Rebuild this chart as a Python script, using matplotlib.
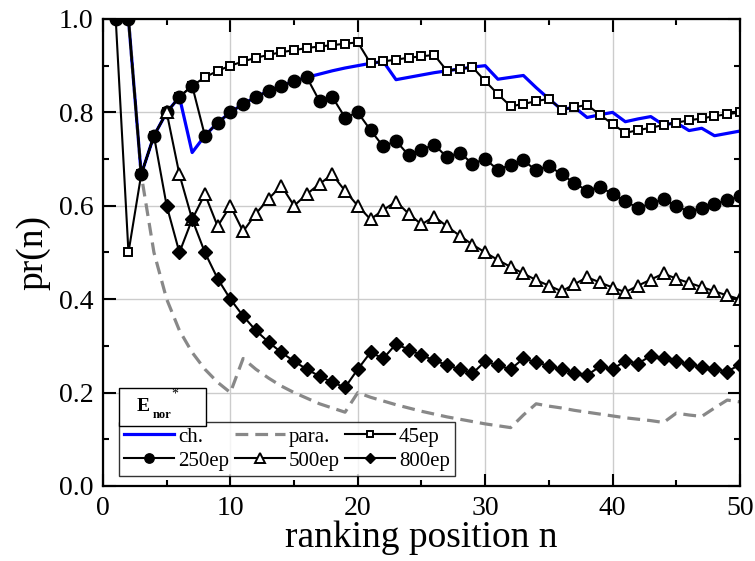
import matplotlib
matplotlib.use('Agg')
import matplotlib.pyplot as plt
import matplotlib.patches as patches

plt.rcParams['font.family'] = ['Liberation Serif', 'DejaVu Serif']

# ranking position n = 1..50
n = list(range(1, 51))

ch = [1.0, 1.0, 0.667, 0.75, 0.8, 0.833, 0.714, 0.75, 0.778, 0.8,
      0.818, 0.833, 0.846, 0.857, 0.867, 0.875, 0.882, 0.889, 0.895, 0.9,
      0.905, 0.909, 0.870, 0.875, 0.88, 0.885, 0.889, 0.893, 0.897, 0.9,
      0.871, 0.875, 0.879, 0.853, 0.829, 0.806, 0.811, 0.789, 0.795, 0.8,
      0.780, 0.786, 0.791, 0.773, 0.778, 0.761, 0.766, 0.75, 0.755, 0.76]

para = [1.0, 1.0, 0.667, 0.5, 0.4, 0.333, 0.286, 0.25, 0.222, 0.2,
        0.273, 0.25, 0.231, 0.214, 0.2, 0.188, 0.176, 0.167, 0.158, 0.2,
        0.190, 0.182, 0.174, 0.167, 0.16, 0.154, 0.148, 0.143, 0.138, 0.133,
        0.129, 0.125, 0.152, 0.176, 0.171, 0.167, 0.162, 0.158, 0.154, 0.15,
        0.146, 0.143, 0.140, 0.136, 0.156, 0.152, 0.149, 0.167, 0.184, 0.18]

ep45 = [1.0, 0.5, 0.667, 0.75, 0.8, 0.833, 0.857, 0.875, 0.889, 0.9,
        0.909, 0.917, 0.923, 0.929, 0.933, 0.938, 0.941, 0.944, 0.947, 0.95,
        0.905, 0.909, 0.913, 0.917, 0.92, 0.923, 0.889, 0.893, 0.897, 0.867,
        0.839, 0.813, 0.818, 0.824, 0.829, 0.806, 0.811, 0.816, 0.795, 0.775,
        0.756, 0.762, 0.767, 0.773, 0.778, 0.783, 0.787, 0.792, 0.796, 0.8]

ep250 = [1.0, 1.0, 0.667, 0.75, 0.8, 0.833, 0.857, 0.75, 0.778, 0.8,
         0.818, 0.833, 0.846, 0.857, 0.867, 0.875, 0.824, 0.833, 0.789, 0.8,
         0.762, 0.727, 0.739, 0.708, 0.72, 0.731, 0.704, 0.714, 0.690, 0.7,
         0.677, 0.688, 0.697, 0.676, 0.686, 0.667, 0.649, 0.632, 0.641, 0.625,
         0.610, 0.595, 0.605, 0.614, 0.6, 0.587, 0.596, 0.604, 0.612, 0.62]

ep500 = [1.0, 1.0, 0.667, 0.75, 0.8, 0.667, 0.571, 0.625, 0.556, 0.6,
         0.545, 0.583, 0.615, 0.643, 0.6, 0.625, 0.647, 0.667, 0.632, 0.6,
         0.571, 0.591, 0.609, 0.583, 0.56, 0.577, 0.556, 0.536, 0.517, 0.5,
         0.484, 0.469, 0.455, 0.441, 0.429, 0.417, 0.432, 0.447, 0.436, 0.425,
         0.415, 0.429, 0.442, 0.455, 0.444, 0.435, 0.426, 0.417, 0.408, 0.4]

ep800 = [1.0, 1.0, 0.667, 0.75, 0.6, 0.5, 0.571, 0.5, 0.444, 0.4,
         0.364, 0.333, 0.308, 0.286, 0.267, 0.25, 0.235, 0.222, 0.211, 0.25,
         0.286, 0.273, 0.304, 0.292, 0.28, 0.269, 0.259, 0.25, 0.241, 0.267,
         0.258, 0.25, 0.273, 0.265, 0.257, 0.25, 0.243, 0.237, 0.256, 0.25,
         0.268, 0.262, 0.279, 0.273, 0.267, 0.261, 0.255, 0.25, 0.245, 0.26]

x_ticks = [0, 10, 20, 30, 40, 50]
y_ticks = [0.0, 0.2, 0.4, 0.6, 0.8, 1.0]

fig = plt.figure(figsize=(7.55, 5.61), dpi=100)
ax = fig.add_axes([0.1364, 0.1337, 0.8437, 0.8325])

ax.grid(True, color='#cccccc', linewidth=1.0, zorder=0)
ax.set_axisbelow(True)

A, = ax.plot(n, ch, color='#0000ff', linewidth=2.3, label='ch.')
B, = ax.plot(n, para, color='#888888', linewidth=2.3, linestyle=(0, (4, 2.2)), label='para.')
C, = ax.plot(n, ep45, color='black', linewidth=1.5, marker='s', markersize=6,
             markerfacecolor='white', markeredgecolor='black', markeredgewidth=1.4, label='45ep')
D, = ax.plot(n, ep250, color='black', linewidth=1.5, marker='o', markersize=9,
             markerfacecolor='black', label='250ep')
E, = ax.plot(n, ep500, color='black', linewidth=1.5, marker='^', markersize=9,
             markerfacecolor='white', markeredgewidth=1.4, markevery=slice(4, None), label='500ep')
F, = ax.plot(n, ep800, color='black', linewidth=1.5, marker='D', markersize=7,
             markerfacecolor='black', markevery=slice(4, None), label='800ep')

ax.set_xlim(0, 50)
ax.set_ylim(0, 1.0)
ax.set_xticks(x_ticks)
ax.set_yticks(y_ticks)
ax.set_xticks([5, 15, 25, 35, 45], minor=True)
ax.set_yticks([0.1, 0.3, 0.5, 0.7, 0.9], minor=True)
ax.set_yticklabels(['%.1f' % v for v in y_ticks])
ax.tick_params(which='both', direction='in', top=True, right=True, width=1.5, labelsize=20, pad=7)
ax.tick_params(which='major', length=9)
ax.tick_params(which='minor', length=4.5)
for s in ax.spines.values():
    s.set_linewidth(1.6)

ax.set_xlabel('ranking position n', fontsize=27, labelpad=0)
ax.set_ylabel('pr(n)', fontsize=27, labelpad=6)

leg = ax.legend([A, D, B, E, C, F], ['ch.', '250ep', 'para.', '500ep', '45ep', '800ep'],
                ncol=3, loc='lower left', bbox_to_anchor=(0.0251, 0.0214), borderaxespad=0,
                fontsize=15, handlelength=2.4, handletextpad=0.2, columnspacing=0.25,
                labelspacing=0.22, borderpad=0.25, markerscale=0.75,
                frameon=True, fancybox=False)
leg.get_frame().set_edgecolor('black')
leg.get_frame().set_linewidth(1.0)
leg.set_zorder(10)

# title box above the legend
rect = patches.Rectangle((0.0251, 0.1285), 0.1366, 0.0814, transform=ax.transAxes,
                         facecolor='white', edgecolor='black', linewidth=1.0, zorder=11, clip_on=False)
ax.add_patch(rect)
ax.text(0.0534, 0.1606, 'E', transform=ax.transAxes, fontsize=14, fontweight='bold',
        va='baseline', ha='left', zorder=12)
ax.text(0.0785, 0.1456, 'nor', transform=ax.transAxes, fontsize=9, fontweight='bold',
        va='baseline', ha='left', zorder=12)
ax.text(0.1067, 0.197, '*', transform=ax.transAxes, fontsize=10,
        va='center', ha='left', zorder=12)

fig.savefig('out.png', dpi=100)
